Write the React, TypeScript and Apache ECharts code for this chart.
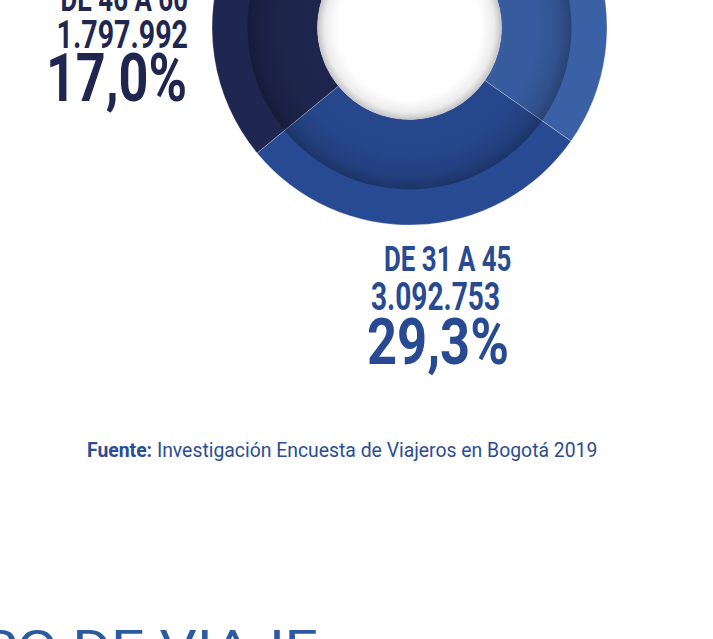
import React, { useEffect, useRef } from "react";
import * as echarts from "echarts";

// ---- data (hidden slices estimated) ----
const ageGroups = ["DE 31 A 45", "DE 46 A 60", "DE 61 Y MÁS", "MENORES DE 18", "DE 18 A 30"];
const travelers = [3092753, 1797992, 1045000, 1380000, 3245000];
const shareLabels = ["29,3%", "17,0%", "9,9%", "13,1%", "30,7%"];
const sliceColors = ["#284a93", "#1f2750", "#2d3b73", "#4d73b8", "#3a60a6"];
const sourceLabel = "Fuente:";
const sourceText = "Investigación Encuesta de Viajeros en Bogotá 2019";
const nextTitle = "TIPO DE VIAJE";

const fmt = (n: number) => String(n).replace(/\B(?=(\d{3})+(?!\d))/g, ".");

export default function App() {
  const ref = useRef<HTMLDivElement>(null);
  useEffect(() => {
    const chart = echarts.init(ref.current!, null, { renderer: "svg" });
    const cx = 409.5;
    const cy = 27.5;

    // label placement (style only) for visible slices: index -> layout
    const layouts: Record<number, any> = {
      1: {
        color: "#1f2750",
        align: "right",
        lines: [
          { x: 188, y: -0.5, size: 35, sx: 0.74 },
          { x: 188, y: 34, size: 39, sx: 0.733 },
          { x: 187, y: 79, size: 66, sx: 0.79 },
        ],
      },
      0: {
        color: "#284a93",
        align: "left",
        lines: [
          { x: 384, y: 259, size: 35, sx: 0.74 },
          { x: 371, y: 296, size: 39, sx: 0.72 },
          { x: 367, y: 342.5, size: 64, sx: 0.82 },
        ],
      },
    };

    const labelEls: any[] = [];
    Object.keys(layouts).forEach((k) => {
      const i = Number(k);
      const L = layouts[i];
      const texts = [ageGroups[i], fmt(travelers[i]), shareLabels[i]];
      texts.forEach((t, j) => {
        const ln = L.lines[j];
        labelEls.push({
          type: "text",
          x: ln.x,
          y: ln.y,
          scaleX: ln.sx,
          z: 20,
          style: {
            text: t,
            fontFamily: "Roboto",
            fontWeight: 700,
            fontSize: ln.size,
            fill: L.color,
            align: L.align,
            textAlign: L.align,
            verticalAlign: "middle",
            textVerticalAlign: "middle",
          },
        });
      });
    });

    const option: any = {
      animation: false,
      backgroundColor: "#ffffff",
      series: [
        {
          type: "pie",
          center: [cx, cy],
          radius: [92, 197.5],
          startAngle: 324.9,
          clockwise: true,
          silent: true,
          label: { show: false },
          labelLine: { show: false },
          itemStyle: { borderColor: "rgba(255,255,255,0.35)", borderWidth: 0.8 },
          data: travelers.map((v, i) => ({
            value: v,
            name: ageGroups[i],
            itemStyle: { color: sliceColors[i] },
          })),
          z: 2,
        },
        {
          type: "pie",
          center: [cx, cy],
          radius: [92, 162],
          silent: true,
          label: { show: false },
          labelLine: { show: false },
          data: [
            {
              value: 1,
              name: "shade",
              itemStyle: {
                color: new echarts.graphic.RadialGradient(
                  cx,
                  cy,
                  162,
                  [
                    { offset: 0, color: "rgba(0,0,0,0.03)" },
                    { offset: 0.78, color: "rgba(0,0,0,0.05)" },
                    { offset: 0.92, color: "rgba(0,0,0,0.15)" },
                    { offset: 1, color: "rgba(0,0,0,0.3)" },
                  ],
                  true
                ),
              },
            },
          ],
          z: 3,
        },
      ],
      graphic: {
        elements: [
          {
            type: "circle",
            z: 10,
            shape: { cx, cy, r: 92 },
            style: {
              fill: new echarts.graphic.RadialGradient(0.5, 0.5, 0.5, [
                { offset: 0, color: "#ffffff" },
                { offset: 0.78, color: "#fefefe" },
                { offset: 0.92, color: "#ededed" },
                { offset: 1, color: "#c4c4c4" },
              ]),
            },
          },
          ...labelEls,
          {
            type: "text",
            x: 87,
            y: 449.5,
            scaleX: 0.923,
            z: 20,
            style: {
              text: "{b|" + sourceLabel + "} " + sourceText,
              fontFamily: "Roboto",
              fontSize: 21,
              fill: "#2b4d95",
              align: "left",
              textAlign: "left",
              verticalAlign: "middle",
              textVerticalAlign: "middle",
              rich: {
                b: { fontFamily: "Roboto", fontSize: 21, fontWeight: 700, fill: "#2b4d95" },
              },
            },
          },
          {
            type: "text",
            x: 318,
            y: 647,
            scaleX: 1.23,
            z: 20,
            style: {
              text: nextTitle,
              fontFamily: "Roboto",
              fontSize: 48,
              fill: "#2c5aa0",
              align: "right",
              textAlign: "right",
              verticalAlign: "middle",
              textVerticalAlign: "middle",
            },
          },
        ],
      },
    };
    chart.setOption(option);
    return () => chart.dispose();
  }, []);
  return (
    <div
      ref={ref}
      style={{ position: "absolute", left: 0, top: 0, width: 713, height: 639 }}
    />
  );
}
